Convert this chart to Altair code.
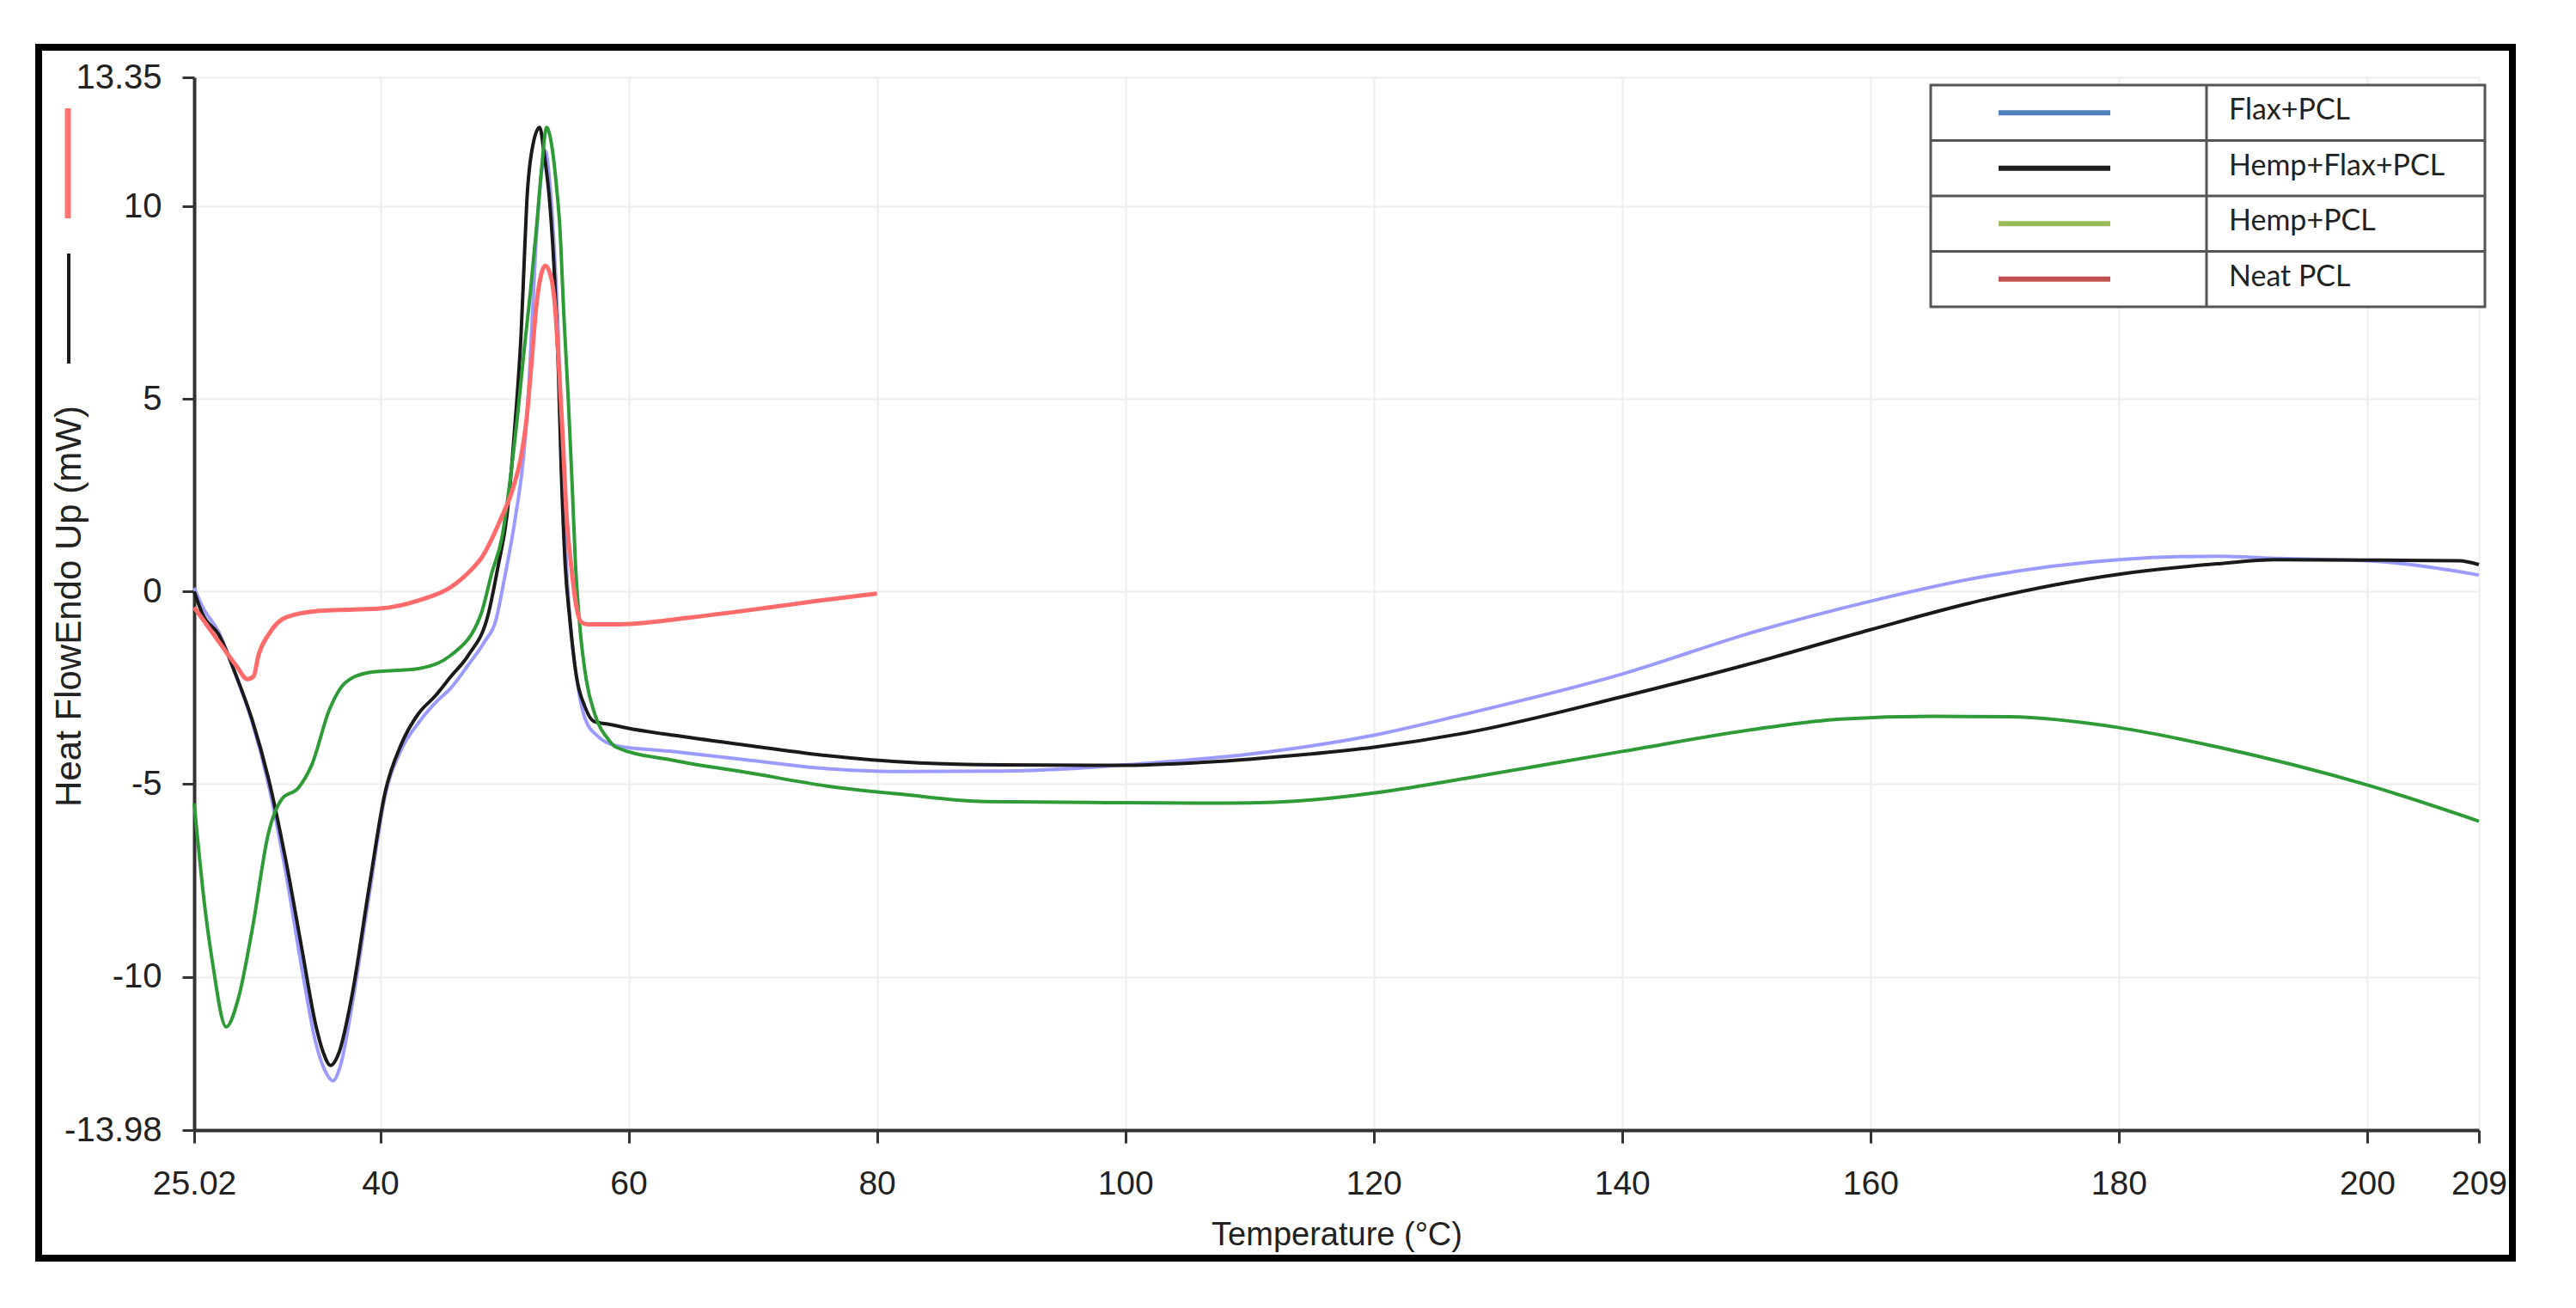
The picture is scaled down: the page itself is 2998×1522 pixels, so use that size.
import altair as alt
import pandas as pd

# ---------------- data ----------------
SERIES = ["Flax+PCL", "Hemp+Flax+PCL", "Hemp+PCL", "Neat PCL"]
CURVE_COLORS = ["#9B9BFF", "#1A1A1A", "#2E9B37", "#FF6B6B"]
CURVE_WIDTHS = [4, 4, 4, 5]
LEGEND_COLORS = ["#4F81BD", "#1E1E1E", "#9BBB59", "#C0504D"]

X_TICKS = [25.02, 40, 60, 80, 100, 120, 140, 160, 180, 200, 209]
Y_TICKS = [13.35, 10, 5, 0, -5, -10, -13.98]

flax_T = [25.02, 25.7, 27.0, 28.4, 29.7, 31.0, 32.4, 33.7, 34.8, 35.5, 36.2, 36.8, 37.7, 39.1, 40.4,
          41.7, 43.1, 44.4, 45.7, 47.1, 48.4, 49.3, 49.95, 50.9, 51.57, 52.0, 52.5, 53.0, 53.3, 53.6,
          54.0, 54.3, 54.6, 54.95, 55.3, 55.8, 56.5, 57.5, 59.0, 63.6, 69.8, 76, 82.2, 90, 95.5,
          100.8, 110, 120, 127.4, 140, 150.7, 160, 169.3, 180, 188, 193, 200, 204.7, 209]
flax_V = [0.1, -0.4, -1.05, -2.2, -3.4, -5.0, -7.3, -9.8, -11.7, -12.4, -12.7, -12.3, -10.8, -7.9, -5.3,
          -4.1, -3.4, -2.9, -2.5, -1.9, -1.3, -0.76, 0.25, 1.96, 3.58, 5.5, 8.8, 10.9, 11.45, 10.8,
          8.97, 7.0, 4.2, 1.0, -0.8, -2.2, -3.3, -3.75, -4.0, -4.15, -4.38, -4.6, -4.67, -4.66, -4.6,
          -4.48, -4.22, -3.73, -3.18, -2.14, -1.04, -0.25, 0.4, 0.83, 0.92, 0.86, 0.8, 0.65, 0.43]

hfp_T = [25.02, 25.7, 27.0, 28.4, 29.7, 31.0, 32.4, 33.7, 34.8, 35.4, 36.0, 36.7, 37.7, 39.1, 40.4,
         41.7, 43.1, 44.4, 45.7, 47.1, 48.7, 49.5, 50.2, 50.65, 51.0, 51.34, 51.57, 51.8, 52.3, 52.84,
         53.2, 53.65, 54.0, 54.34, 54.57, 54.9, 55.26, 55.8, 56.5, 57.2, 58.5, 60, 63.6, 69.8, 76,
         83.4, 90, 100, 107.5, 113.4, 120, 127.4, 140, 150.7, 160, 169.3, 180, 187.9, 192.6, 200,
         207.4, 209]
hfp_V = [0.0, -0.59, -1.12, -2.18, -3.34, -4.85, -6.98, -9.29, -11.24, -11.95, -12.3, -11.95, -10.53, -7.69, -5.2,
         -3.96, -3.16, -2.72, -2.2, -1.65, -0.59, 0.67, 1.96, 3.5, 4.96, 6.66, 8.38, 10.09, 11.6, 12.05,
         11.37, 10.1, 8.4, 5.8, 3.24, 0.67, -0.69, -2.2, -3.0, -3.37, -3.45, -3.55, -3.73, -4.0, -4.26,
         -4.45, -4.5, -4.51, -4.41, -4.26, -4.04, -3.67, -2.73, -1.84, -0.99, -0.2, 0.45, 0.72, 0.83, 0.82,
         0.8, 0.7]

hemp_T = [25.02, 25.2, 25.7, 26.5, 27.6, 28.6, 29.7, 31.0, 32.1, 33.4, 34.5, 35.9, 37.2, 39.1, 43.1,
          45.7, 48.1, 49.0, 49.8, 50.5, 51.1, 51.6, 52.1, 52.6, 53.0, 53.4, 53.8, 54.2, 54.46, 54.8,
          55.15, 55.45, 55.73, 56.1, 56.6, 57.3, 58.4, 59.0, 63.6, 69.8, 76, 82.2, 88.7, 100, 108,
          112, 116, 120, 127.4, 140, 151.2, 157.6, 165, 171.2, 180, 187.9, 200, 209]
hemp_V = [-5.5, -6.1, -7.7, -9.64, -11.3, -10.53, -8.76, -6.27, -5.38, -5.1, -4.49, -3.07, -2.36, -2.1, -2.0,
          -1.65, -0.6, 0.5, 1.4, 3.0, 4.7, 6.3, 7.8, 9.5, 11.0, 12.05, 11.6, 10.5, 9.49, 7.1,
          4.96, 2.82, 0.67, -1.0, -2.3, -3.2, -3.85, -4.04, -4.38, -4.71, -5.05, -5.27, -5.45, -5.48, -5.49,
          -5.47, -5.38, -5.23, -4.85, -4.15, -3.55, -3.31, -3.24, -3.25, -3.53, -4.03, -5.02, -5.96]

neat_T = [25.02, 27.0, 28.4, 29.3, 29.8, 30.2, 31.0, 32.4, 35.1, 40, 43.1, 45.7, 47.6, 48.1, 49.7,
          50.65, 51.34, 51.8, 52.15, 52.6, 53.3, 53.8, 54.1, 54.4, 54.7, 55.0, 55.4, 55.8, 56.2, 56.7,
          59.1, 65, 71.6, 75, 80]
neat_V = [-0.41, -1.3, -1.92, -2.27, -2.2, -1.65, -1.12, -0.67, -0.5, -0.44, -0.23, 0.12, 0.66, 0.85, 1.88,
          2.64, 3.5, 4.52, 5.8, 7.5, 8.46, 8.1, 7.3, 5.8, 4.0, 2.0, 0.6, -0.4, -0.8, -0.85,
          -0.85, -0.67, -0.4, -0.25, -0.05]

CURVES = [(flax_T, flax_V), (hfp_T, hfp_V), (hemp_T, hemp_V), (neat_T, neat_V)]

# ---------------- layout ----------------
W, H = 2659, 1225
FONT = "Liberation Sans"

xscale = alt.Scale(domain=[25.02, 209], nice=False, zero=False)
yscale = alt.Scale(domain=[-13.98, 13.35], nice=False, zero=False)

xaxis = alt.Axis(
    values=X_TICKS, labelExpr="toString(datum.value)", labelFont=FONT, labelFontSize=39,
    labelColor="#222222", labelPadding=28, labelFlush=False, labelOverlap=False,
    tickSize=15, tickWidth=3, tickColor="#333333", domainColor="#333333", domainWidth=4,
    grid=True, gridColor="#EDEDED", gridWidth=2,
    title="Temperature (°C)", titleFont=FONT, titleFontSize=38, titleFontWeight="normal",
    titleColor="#222222", titleBaseline="alphabetic", titleX=W / 2, titleY=133,
)
yaxis = alt.Axis(
    values=Y_TICKS, labelExpr="toString(datum.value)", labelFont=FONT, labelFontSize=40,
    labelColor="#222222", labelPadding=24, labelFlush=False, labelOverlap=False,
    tickSize=14, tickWidth=3, tickColor="#333333", domainColor="#333333", domainWidth=4,
    grid=True, gridColor="#EDEDED", gridWidth=2,
    title="Heat FlowEndo Up (mW)", titleFont=FONT, titleFontSize=42, titleFontWeight="normal",
    titleColor="#222222", titleAngle=270, titleAlign="center", titleBaseline="middle",
    titleX=-146, titleY=615,
)

one = pd.DataFrame({"k": [0]})
layers = []

# outer frame
layers.append(
    alt.Chart(one).mark_rect(fillOpacity=0, stroke="black", strokeWidth=8).encode(
        x=alt.value(-181), x2=alt.value(W + 39), y=alt.value(-35), y2=alt.value(H + 149)
    )
)

# curves (drawn in series order)
for name, color, sw, (ts, vs) in zip(SERIES, CURVE_COLORS, CURVE_WIDTHS, CURVES):
    df = pd.DataFrame({"T": ts, "V": vs, "series": name})
    layers.append(
        alt.Chart(df).mark_line(interpolate="monotone", strokeWidth=sw, color=color).encode(
            x=alt.X("T:Q", scale=xscale, axis=xaxis),
            y=alt.Y("V:Q", scale=yscale, axis=yaxis),
        )
    )

# y-title line samples (Excel style)
layers.append(
    alt.Chart(one).mark_rule(color="#1A1A1A", strokeWidth=4).encode(
        x=alt.value(-146), y=alt.value(205), y2=alt.value(333)
    )
)
layers.append(
    alt.Chart(one).mark_rule(color="#FF7373", strokeWidth=7).encode(
        x=alt.value(-147), y=alt.value(36), y2=alt.value(164)
    )
)

# legend table
BX0, BX1, BY0 = 2021, 2666, 9
ROW_H = 64.5
BY1 = BY0 + ROW_H * len(SERIES)
COL_X = 2342
layers.append(
    alt.Chart(one).mark_rect(fill="white", stroke="#555555", strokeWidth=3).encode(
        x=alt.value(BX0), x2=alt.value(BX1), y=alt.value(BY0), y2=alt.value(BY1)
    )
)
for k in range(1, len(SERIES)):
    layers.append(
        alt.Chart(one).mark_rule(color="#555555", strokeWidth=3).encode(
            x=alt.value(BX0), x2=alt.value(BX1), y=alt.value(BY0 + ROW_H * k)
        )
    )
layers.append(
    alt.Chart(one).mark_rule(color="#555555", strokeWidth=3).encode(
        x=alt.value(COL_X), y=alt.value(BY0), y2=alt.value(BY1)
    )
)
for i, (name, lc) in enumerate(zip(SERIES, LEGEND_COLORS)):
    cy = BY0 + ROW_H * (i + 0.5)
    layers.append(
        alt.Chart(one).mark_rule(color=lc, strokeWidth=6).encode(
            x=alt.value(2100), x2=alt.value(2230), y=alt.value(cy)
        )
    )
    layers.append(
        alt.Chart(one).mark_text(
            text=name, align="left", baseline="middle", font="Lato", fontSize=34, color="#222222"
        ).encode(x=alt.value(2368), y=alt.value(cy - 2))
    )

chart = alt.layer(*layers).properties(
    width=W, height=H,
    autosize=alt.AutoSizeParams(type="none"),
    padding={"left": 218, "top": 82, "right": 60, "bottom": 170},
    background="white",
).configure_view(stroke=None)

chart.save("out.html", embed_options={"renderer": "svg", "actions": False})
